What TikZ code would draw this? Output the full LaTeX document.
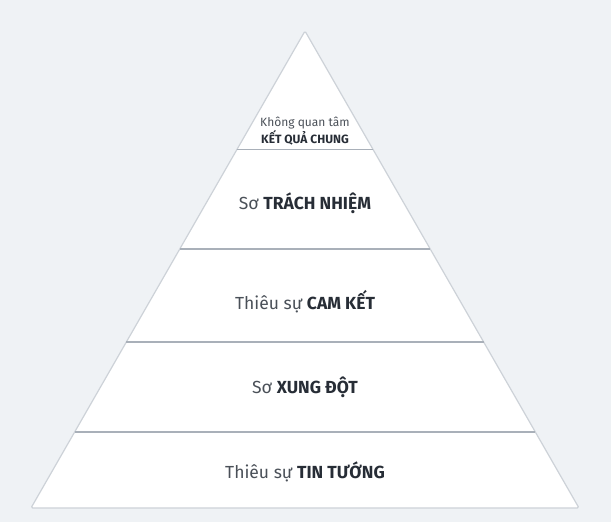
\documentclass[tikz,border=0pt]{standalone}
\usepackage{fontspec}
\setmainfont{Fira Sans}
\usetikzlibrary{calc}
\definecolor{bggray}{HTML}{EFF2F5}
\definecolor{edgegray}{HTML}{CDD2D8}
\definecolor{rulegray}{HTML}{A9B0B9}
\definecolor{textgray}{HTML}{4A5058}
\definecolor{textdark}{HTML}{272D36}
\begin{document}
\begin{tikzpicture}
[x=1pt,y=-1pt,
  pyramiddecorate/.style={fill=white,draw=edgegray,line width=1.2pt,line join=round,rounded corners=1.5pt},%
  linedecorate/.style={-,draw=rulegray,line width=1.2pt},
  labeldecorate/.style={align=center,text=textgray,font=\fontsize{17.5}{20}\selectfont,inner sep=0pt},
  toplabeldecorate/.style={align=center,text=textgray,font=\fontsize{12}{14.5}\selectfont,inner sep=0pt}]
\useasboundingbox[fill=bggray] (0,0) rectangle (611,522);
%% corners of the pyramid
\coordinate (apex) at (305,31);
\coordinate (baseL) at (31,508);
\coordinate (baseR) at (579,508);
\path[pyramiddecorate] (apex) -- (baseR) -- (baseL) -- cycle;
%% dividing lines
\foreach \rulename/\y in {1/149.5, 2/249, 3/342, 4/432}
{
  \coordinate (l\rulename) at ($(apex)!{(\y-31)/477}!(baseL)$);
  \coordinate (r\rulename) at ($(apex)!{(\y-31)/477}!(baseR)$);
  \draw[linedecorate] (l\rulename) -- (r\rulename);
}
%% labels
\node (lab0) at (305,131) [toplabeldecorate] {Không quan tâm\\{\bfseries\color{textdark}KẾT QUẢ CHUNG}};
\foreach \labname/\y/\plain/\strong in {
  1/203/Sơ/TRÁCH NHIỆM, 2/302/Thiêu sự/CAM KẾT,
  3/387/Sơ/XUNG ĐỘT, 4/472/Thiêu sự/TIN TƯỚNG}
{
  \node (lab\labname) at (305,\y) [labeldecorate] {\plain\ {\bfseries\color{textdark}\strong}};
}
\end{tikzpicture}
\end{document}
